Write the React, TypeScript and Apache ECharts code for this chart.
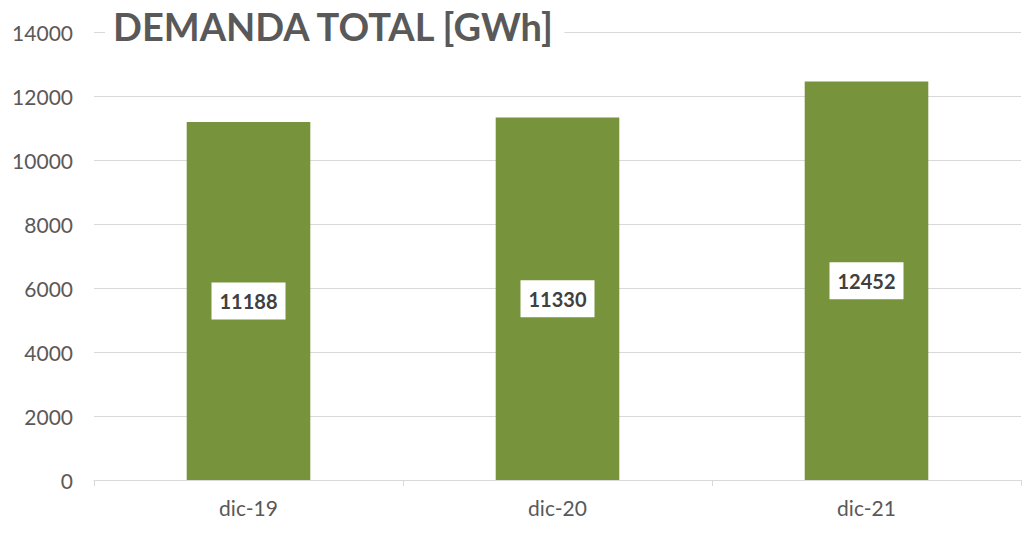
import React, { useEffect, useRef } from "react";
import * as echarts from "echarts";

const categories = ["dic-19", "dic-20", "dic-21"];
const demanda = [11188, 11330, 12452];
const titleText = "DEMANDA TOTAL [GWh]";

export default function App() {
  const ref = useRef<HTMLDivElement>(null);
  useEffect(() => {
    if (!ref.current) return;
    const chart = echarts.init(ref.current, null, { renderer: "svg" });
    chart.setOption({
      animation: false,
      backgroundColor: "#ffffff",
      textStyle: { fontFamily: "Lato, 'Liberation Sans', sans-serif" },
      title: {
        text: titleText,
        left: 105,
        top: 7,
        backgroundColor: "#ffffff",
        padding: [0, 8, 0, 8],
        textStyle: {
          fontFamily: "Lato, 'Liberation Sans', sans-serif",
          fontSize: 38,
          fontWeight: "bold",
          color: "#595959",
        },
      },
      grid: { left: 94, right: 4, top: 32, bottom: 54, containLabel: false },
      xAxis: {
        type: "category",
        data: categories,
        axisLine: { lineStyle: { color: "#d9d9d9", width: 1 } },
        axisTick: { show: true, length: 6, lineStyle: { color: "#d9d9d9" } },
        axisLabel: { color: "#595959", fontSize: 21, margin: 17 },
      },
      yAxis: {
        type: "value",
        min: 0,
        max: 14000,
        interval: 2000,
        axisLine: { show: false },
        axisTick: { show: false },
        axisLabel: {
          color: "#595959",
          fontSize: 21,
          margin: 21,
          formatter: (v: number) => String(v),
        },
        splitLine: { lineStyle: { color: "#d9d9d9", width: 1 } },
      },
      series: [
        {
          type: "bar",
          data: demanda,
          barWidth: "40%",
          itemStyle: { color: "#77933C" },
          z: 2,
          label: {
            show: true,
            position: "inside",
            backgroundColor: "#ffffff",
            padding: [9, 8, 8, 8],
            color: "#404040",
            fontSize: 20,
            fontWeight: "bold",
            fontFamily: "Lato, 'Liberation Sans', sans-serif",
          },
        },
      ],
    });
    return () => chart.dispose();
  }, []);
  return (
    <div
      ref={ref}
      style={{ position: "fixed", left: 0, top: 0, width: 1025, height: 534 }}
    />
  );
}
